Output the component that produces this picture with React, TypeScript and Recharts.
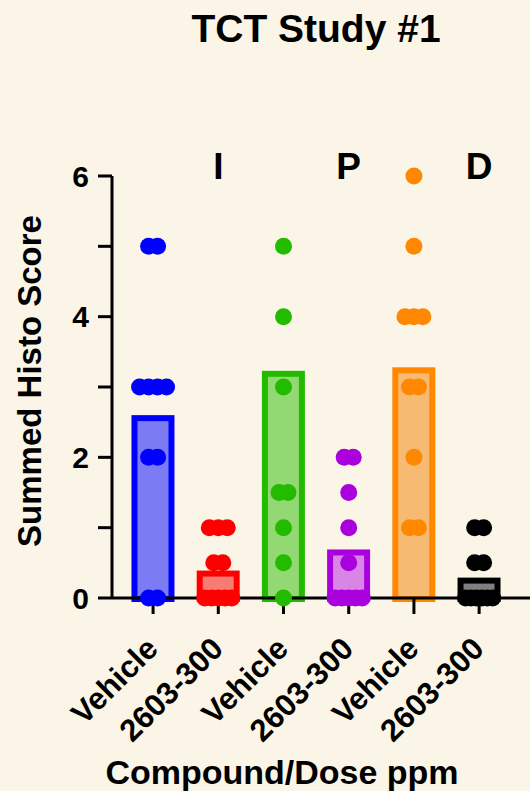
import { Bar, Cell, ComposedChart, Label, Scatter, XAxis, YAxis } from 'recharts';

const groupNames = ['Vehicle', '2603-300', 'Vehicle', '2603-300', 'Vehicle', '2603-300'];
const pairLetters = ['I', 'P', 'D'];
const letterGroups = [1, 3, 5];
const meanScores = [2.6, 0.39, 3.23, 0.69, 3.28, 0.29];

const vehicleI = [5, 5, 3, 3, 3, 3, 2, 2, 0, 0];
const doseI = [1, 1, 1, 0.5, 0.5, 0, 0, 0, 0, 0];
const vehicleP = [5, 4, 3, 1.5, 1.5, 1, 0.5, 0];
const doseP = [2, 2, 1.5, 1, 0.5, 0, 0, 0, 0, 0];
const vehicleD = [6, 5, 4, 4, 4, 3, 3, 2, 1, 1];
const doseD = [1, 1, 0.5, 0.5, 0, 0, 0, 0, 0, 0];

const yTicks = [0, 1, 2, 3, 4, 5, 6];
const groupTicks = [0, 1, 2, 3, 4, 5];

const dotColors = ['#0000FF', '#FF0000', '#22BB00', '#AA00DD', '#FF8800', '#000000'];
const fillColors = ['#7B7BF4', '#F87C74', '#92D873', '#D885E5', '#F7BA73', '#808080'];

const font = '"Liberation Sans", Arial, Helvetica, sans-serif';
const bg = '#FAF5E7';

const allScores = [vehicleI, doseI, vehicleP, doseP, vehicleD, doseD];

const barRows = meanScores.map((m, i) => ({ x: i, y: m }));
const letterRows = pairLetters.map((t, i) => ({ x: letterGroups[i], y: 6, text: t }));

// spread repeated values side by side, like a column scatter
function spreadPoints(values: number[], group: number) {
  const seen: Record<string, number> = {};
  return values.map((v) => {
    const count = values.filter((w) => w === v).length;
    const j = seen[v] ?? 0;
    seen[v] = j + 1;
    return { x: group, y: v, slot: j - (count - 1) / 2, count };
  });
}

const scatterData = allScores.map((vals, i) => spreadPoints(vals, i));

const BarShape = (props: any) => {
  const { x, y, width, height, index } = props;
  if (!height) return null;
  return (
    <rect
      x={x + 3}
      y={y + 3}
      width={width - 6}
      height={height - 2}
      fill={fillColors[index] ?? props.fill}
      stroke={dotColors[index] ?? props.stroke}
      strokeWidth={6}
    />
  );
};

const makeDot = (color: string) => (props: any) => {
  const { cx, cy, payload } = props;
  const step = payload.count > 1 ? Math.min(9, 27 / (payload.count - 1)) : 0;
  return <circle cx={cx + payload.slot * step} cy={cy} r={8.5} fill={color} />;
};

const LetterMark = (props: any) => {
  const { cx, cy, payload } = props;
  return (
    <text x={cx} y={cy} dy={3} textAnchor="middle" fill="#000" fontSize={37} fontWeight={700} fontFamily={font}>
      {payload.text}
    </text>
  );
};

const XTick = (props: any) => {
  const { x, y, payload } = props;
  const tx = x - 9;
  return (
    <text
      x={tx}
      y={y}
      transform={`rotate(-45 ${tx} ${y})`}
      textAnchor="end"
      dy="0.71em"
      fill="#000"
      fontSize={31}
      fontWeight={700}
      fontFamily={font}
    >
      {groupNames[payload.value]}
    </text>
  );
};

export default function App() {
  return (
    <div style={{ position: 'absolute', left: 0, top: 0, width: 530, height: 791, background: bg, fontFamily: font }}>
      <div
        style={{
          position: 'absolute',
          left: 116,
          top: 9,
          width: 400,
          textAlign: 'center',
          fontSize: 39,
          lineHeight: '39px',
          fontWeight: 700,
          color: '#000',
        }}
      >
        TCT Study #1
      </div>
      <ComposedChart
        width={530}
        height={791}
        data={barRows}
        margin={{ top: 176, right: 0, bottom: 0, left: 0 }}
        style={{ position: 'absolute', left: 0, top: 0 }}
      >
        <XAxis
          dataKey="x"
          type="number"
          domain={[-0.63, 5.78]}
          ticks={groupTicks}
          interval={0}
          height={193}
          tickSize={16}
          tickMargin={21}
          axisLine={{ stroke: '#000', strokeWidth: 3 }}
          tickLine={{ stroke: '#000', strokeWidth: 3 }}
          tick={<XTick />}
        >
          <Label
            content={({ viewBox }: any) => (
              <text
                x={viewBox.x + 170}
                y={viewBox.y + 186}
                textAnchor="middle"
                fill="#000"
                fontSize={34}
                fontWeight={700}
                fontFamily={font}
              >
                Compound/Dose ppm
              </text>
            )}
          />
        </XAxis>
        <YAxis
          dataKey="y"
          type="number"
          domain={[0, 6]}
          ticks={yTicks}
          interval={0}
          width={112}
          tickSize={14}
          tickMargin={9}
          tickFormatter={(v: number) => (v % 2 === 0 ? String(v) : '')}
          axisLine={{ stroke: '#000', strokeWidth: 3 }}
          tickLine={{ stroke: '#000', strokeWidth: 3 }}
          tick={{ fill: '#000', fontSize: 30, fontWeight: 700, fontFamily: font }}
        >
          <Label
            content={({ viewBox }: any) => {
              const cx = viewBox.x + 29;
              const cy = viewBox.y + viewBox.height / 2 - 6;
              return (
                <text
                  x={cx}
                  y={cy}
                  transform={`rotate(-90 ${cx} ${cy})`}
                  textAnchor="middle"
                  dy="0.35em"
                  fill="#000"
                  fontSize={33}
                  fontWeight={700}
                  fontFamily={font}
                >
                  Summed Histo Score
                </text>
              );
            }}
          />
        </YAxis>
        <Bar dataKey="y" barSize={43} shape={BarShape} isAnimationActive={false}>
          {barRows.map((_, i) => (
            <Cell key={i} fill={fillColors[i]} stroke={dotColors[i]} />
          ))}
        </Bar>
        {scatterData.map((pts, i) => (
          <Scatter
            key={i}
            data={pts}
            dataKey="y"
            fill={dotColors[i]}
            shape={makeDot(dotColors[i])}
            isAnimationActive={false}
          />
        ))}
        <Scatter data={letterRows} dataKey="y" shape={LetterMark} isAnimationActive={false} />
      </ComposedChart>
    </div>
  );
}
